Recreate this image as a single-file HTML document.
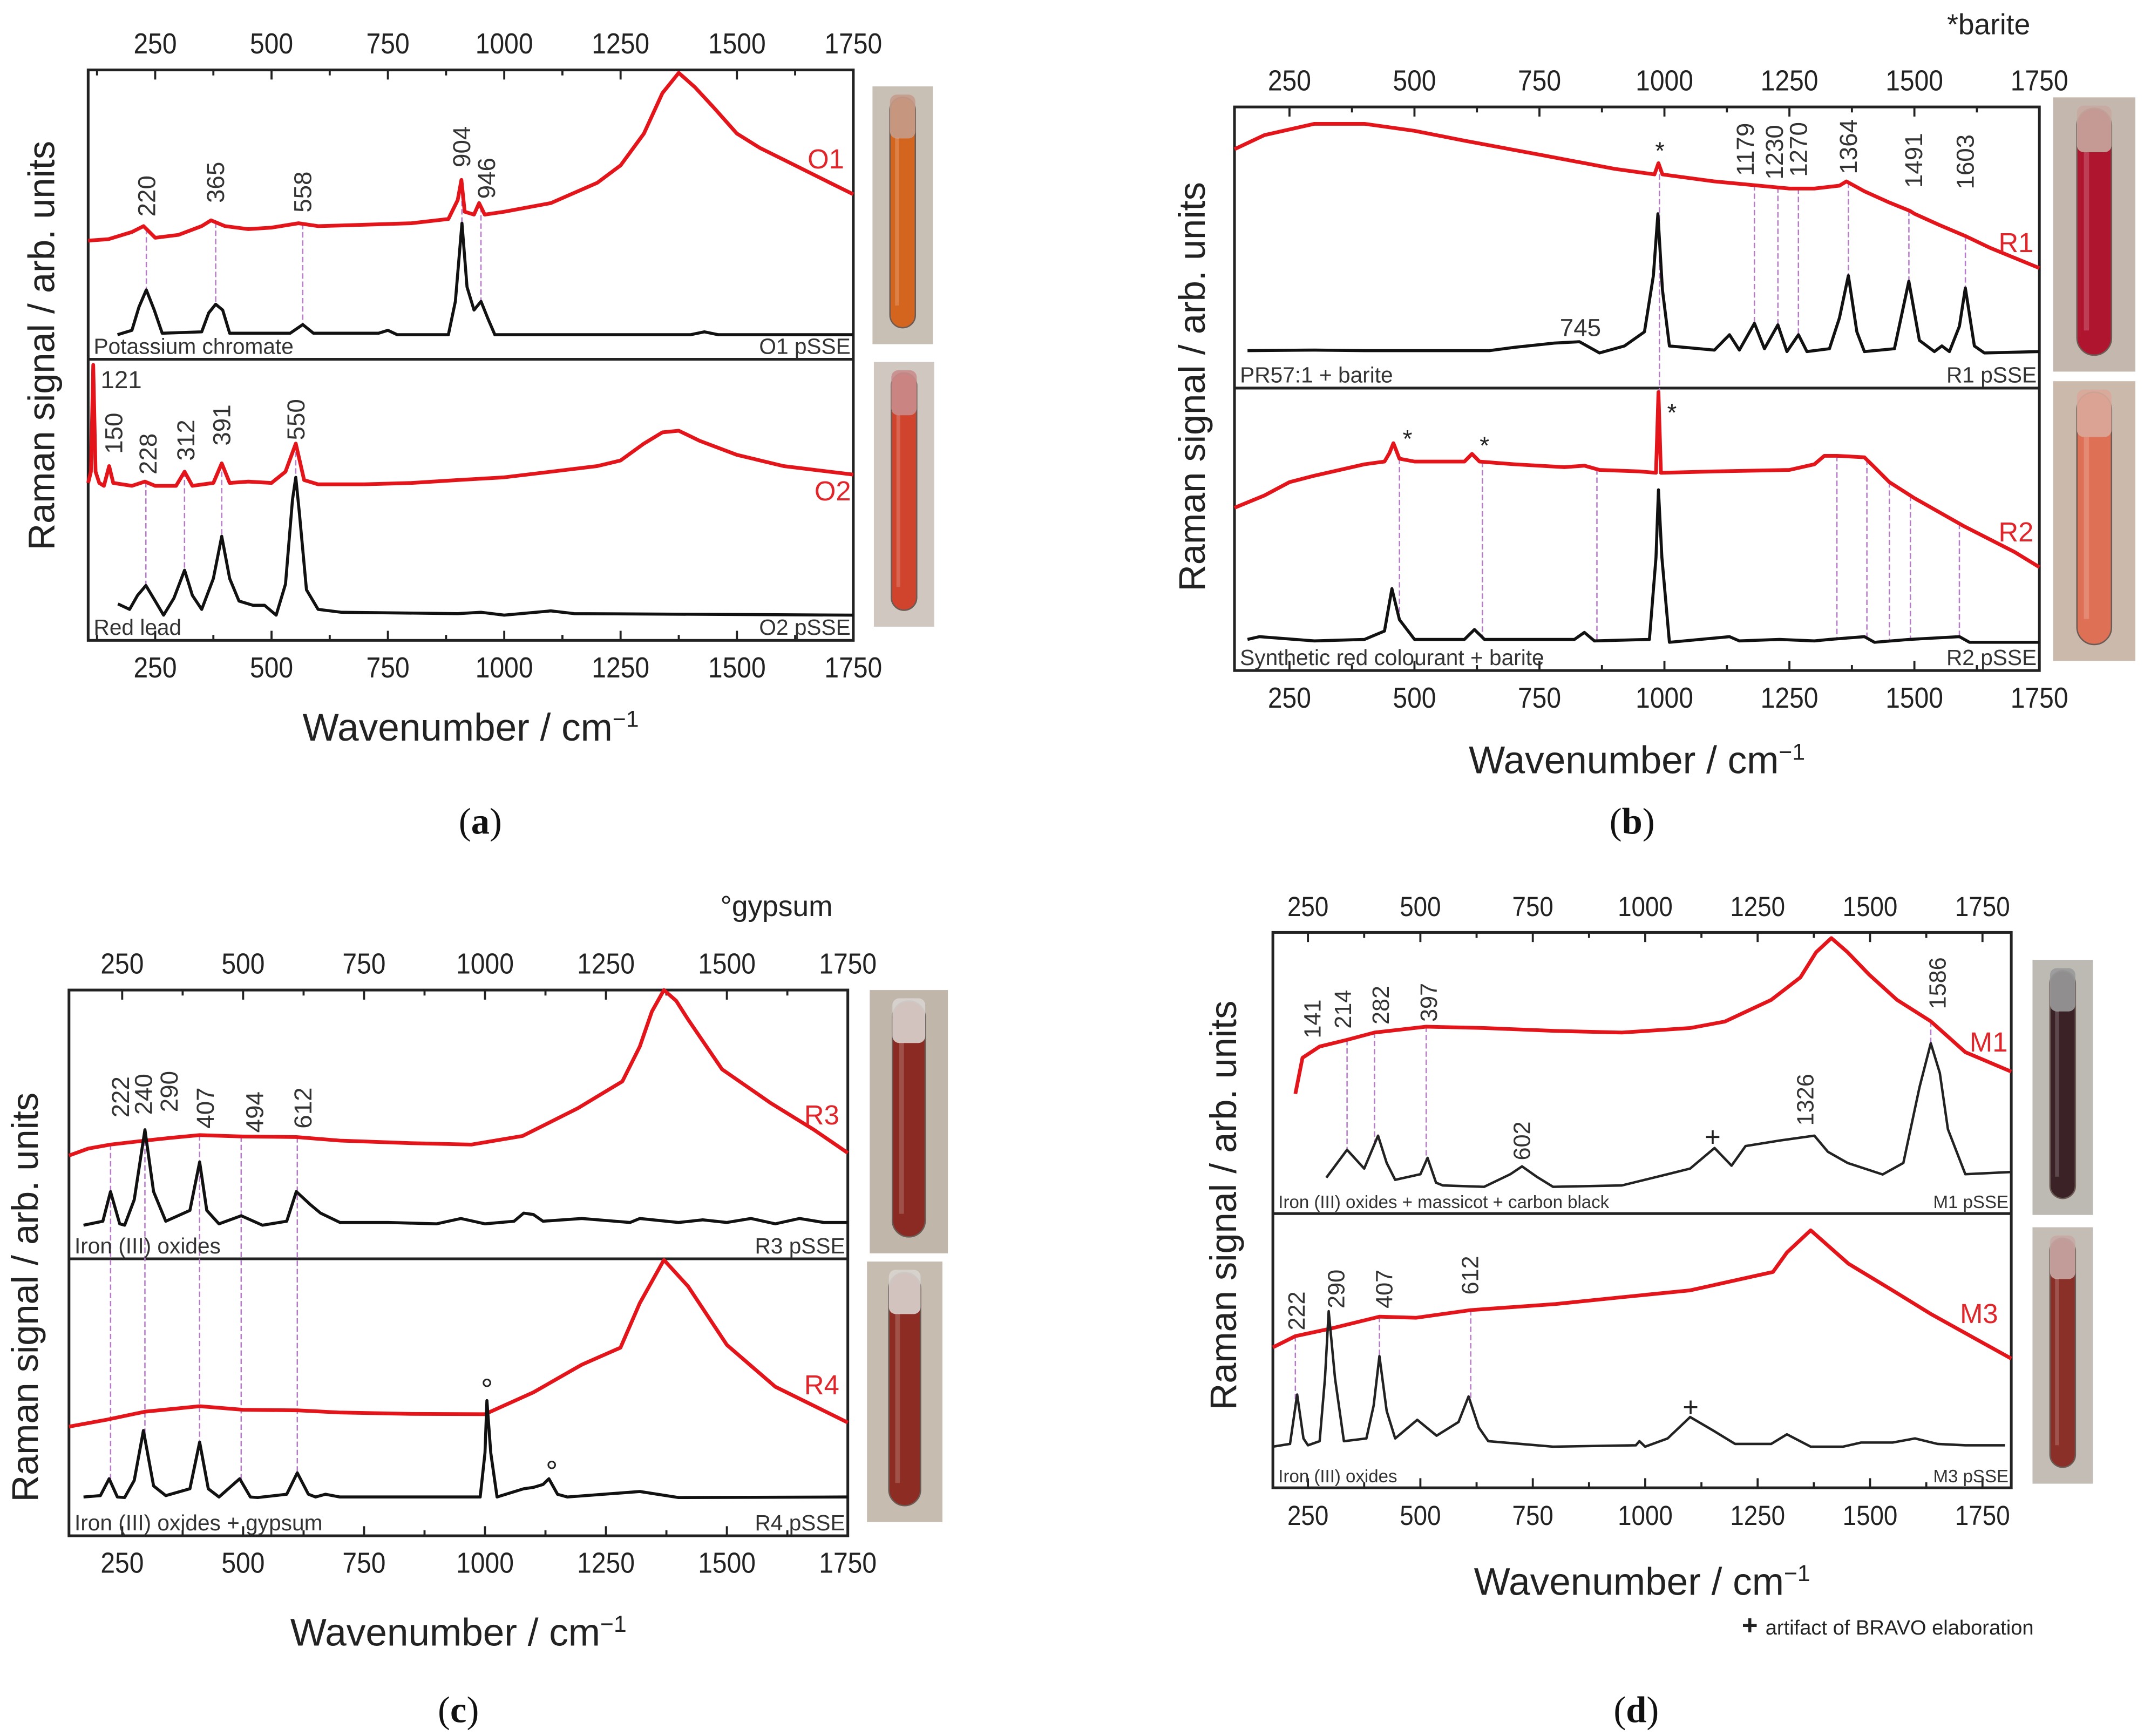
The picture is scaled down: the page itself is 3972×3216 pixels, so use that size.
<!DOCTYPE html>
<html><head><meta charset="utf-8"><title>Raman spectra figure</title>
<style>
html,body{margin:0;padding:0;background:#fff;}
svg{display:block;}
text{font-family:"Liberation Sans",sans-serif;}
</style></head>
<body>
<svg id="fig" xmlns="http://www.w3.org/2000/svg" width="3972" height="3216" viewBox="0 0 1563 1266"></svg>
<script>
// ---------- DATA (wavenumber cm-1, relative intensity 0-100 within sub-panel) ----------
const aO1Red=[[106,41],[150,41.5],[200,44],[225,46],[250,42],[300,43],[350,46],[370,48],[400,46],[450,45],[500,45.5],[558,47],[600,46],[700,46.5],[800,47],[880,48.5],[900,55],[908,62],[915,51],[935,50],[946,54],[958,50],[1000,51],[1100,54],[1200,61],[1250,67],[1300,78],[1340,92],[1375,99],[1410,94],[1450,87],[1500,78],[1550,73],[1600,69],[1700,61],[1750,57]];
const aO1Blk=[[169,8.5],[200,10],[215,18],[231,24],[248,17],[265,9],[350,9.5],[365,16],[380,19],[395,17],[410,9],[540,9],[567,12],[590,9],[730,9],[750,10],[770,8.5],[880,8.5],[895,20],[909,47],[920,25],[935,17],[950,20],[965,14],[980,8.5],[1400,8.5],[1430,9.5],[1460,8.5],[1750,8.5]];
const aO2Red=[[106,56],[112,60],[117,98],[122,60],[130,56],[140,55],[151,62],[160,56],[200,55],[228,56.5],[250,55],[295,55],[313,60],[330,55],[375,56],[393,63],[410,56],[450,56.5],[500,56],[530,60],[552,70],[570,57],[600,55.5],[700,55.5],[800,56],[900,57],[1000,58],[1100,60],[1200,62],[1250,64],[1300,70],[1340,74],[1375,74.6],[1420,71],[1500,66],[1600,62],[1750,59]];
const aO2Blk=[[170,13],[195,11],[212,16],[230,19.5],[250,14],[268,9],[290,15],[313,25],[330,16],[350,11],[375,22],[393,37],[410,22],[430,14],[460,12.5],[485,12.5],[510,9],[530,20],[545,50],[552,58],[560,45],[575,18],[600,11],[650,10],[900,9.5],[950,10],[1000,9],[1100,10.5],[1150,9.5],[1750,9]];

const bR1Red=[[140,85],[200,90],[300,94],[400,94],[500,91.5],[600,88],[750,83],[900,78],[980,76],[988,80],[996,76],[1100,73.5],[1250,71],[1300,71],[1350,72],[1364,73.5],[1400,70],[1450,66],[1491,63],[1500,62],[1550,58],[1603,54],[1650,50],[1750,42.7]];
const bR1Blk=[[166,13.3],[300,13.5],[400,13.3],[650,13.3],[700,14.5],[780,16],[830,16.5],[870,12.5],[920,15],[960,20],[978,40],[987,62],[996,35],[1010,15],[1040,14.5],[1100,13.5],[1130,19],[1150,13.5],[1180,23],[1200,14],[1227,22.5],[1245,13],[1268,19],[1285,13],[1330,14],[1350,25],[1368,40],[1385,20],[1400,13],[1460,14],[1489,38],[1510,17],[1540,13],[1555,15],[1570,13],[1590,22],[1602,35.6],[1620,15],[1640,12.5],[1750,13]];
const bR2Red=[[140,57.6],[200,62],[250,66.7],[300,69],[400,73],[440,74],[450,77],[458,80.5],[470,75],[500,74],[600,74],[615,76.7],[630,74],[700,73],[800,72],[840,72.5],[870,71],[950,70.5],[983,70],[988,98.6],[993,70],[1100,70.5],[1250,71],[1300,73],[1320,76],[1345,76],[1400,75.5],[1420,72],[1450,66.7],[1500,61],[1600,51],[1700,42],[1750,36.6]];
const bR2Blk=[[166,11],[190,12],[300,10.5],[400,11],[440,14],[455,29],[470,18],[500,11],[600,11],[620,14.5],[640,11],[820,11],[840,13.5],[860,10.5],[970,11],[983,40],[988,64],[995,40],[1010,10],[1130,12],[1150,10.5],[1230,11],[1300,10.5],[1330,11],[1400,12],[1420,10],[1490,11],[1590,12],[1610,10],[1750,10]];

const cR3Red=[[140,38.4],[180,41],[226,42.5],[297,44],[350,45],[410,46],[500,45.5],[610,45.3],[700,44],[850,43],[972,42.5],[1078,45.7],[1192,56],[1284,66],[1320,79],[1345,92],[1370,100],[1395,96],[1420,89],[1490,70.5],[1590,58],[1680,48],[1750,39.4]];
const cR3Blk=[[170,12.5],[210,14],[226,25],[245,13],[255,12.5],[275,22],[297,48],[315,25],[340,14],[390,18],[410,36],[425,18],[450,13],[496,16],[540,12.5],[590,14],[610,25],[640,20],[660,17],[700,13.5],[800,13.5],[900,13],[950,15],[1000,13],[1060,14],[1080,17],[1100,16.5],[1120,14],[1200,15],[1300,13.5],[1320,15],[1400,13.5],[1450,14.5],[1500,13.5],[1550,15],[1600,13],[1650,15],[1700,13.5],[1750,13.5]];
const cR4Red=[[140,39.4],[220,42],[297,44.8],[410,46.8],[500,45.5],[612,45.3],[700,44.5],[850,44],[1000,43.9],[1100,51.8],[1200,61.8],[1280,67.9],[1320,84],[1370,99.6],[1420,90],[1500,68.9],[1600,53.8],[1750,40.9]];
const cR4Blk=[[170,14],[205,14.5],[223,20.6],[240,14],[255,13.8],[275,20],[294,38],[315,18],[340,14.5],[390,17],[410,33.8],[428,17],[450,14],[493,20.6],[515,14],[530,13.8],[590,15],[612,22.7],[635,15],[650,14],[670,15],[700,14],[990,14],[1000,30],[1004,48.8],[1012,30],[1025,14],[1080,17],[1100,17.5],[1120,18.5],[1132,20.6],[1150,15],[1170,14],[1320,16],[1400,13.8],[1750,14]];

const dM1Red=[[222,42.6],[238,55.4],[276,59.4],[337,61.8],[398,64.4],[513,66.5],[642,66],[800,65],[948,64.4],[1100,66],[1177,68.3],[1280,76],[1345,84],[1380,93],[1414,98],[1450,93],[1498,85],[1560,76],[1635,68.4],[1712,57.4],[1814,50.5]];
const dM1Blk=[[291,12.8],[337,22.7],[375,16],[406,27.7],[425,18],[444,12],[500,14],[516,19.8],[535,11],[550,10],[642,9.5],[700,14],[726,16.8],[760,13],[795,9.5],[948,10],[1050,14],[1100,16],[1154,23.3],[1192,17],[1223,24],[1300,26],[1376,27.7],[1406,22],[1450,18],[1528,13.9],[1574,18],[1610,45],[1635,60.6],[1655,50],[1673,30],[1712,14],[1814,14.8]];
const dM3Red=[[172,51.2],[222,55.3],[299,58],[409,62.4],[490,62],[612,64.8],[800,67],[948,69.5],[1100,72],[1284,78.7],[1315,85.8],[1368,93.9],[1452,81.7],[1550,72],[1635,63.4],[1814,47.1]];
const dM3Blk=[[172,15],[210,16],[226,34],[240,18],[250,15.5],[276,17],[288,40],[296,64.4],[310,40],[330,17],[380,18],[396,30],[409,48],[425,28],[444,18],[493,24.8],[536,19],[585,24],[607,33.3],[630,22],[651,17],[795,15],[979,15.5],[987,17],[1000,15],[1050,18],[1100,25.8],[1150,21],[1200,16],[1280,16],[1315,19.5],[1368,15],[1440,15],[1480,16.5],[1550,16.5],[1600,18],[1650,16],[1712,15.5],[1800,15.5]];

const tickLabels=[250,500,750,1000,1250,1500,1750];

const aPeaksUp=[["220",232],["365",380],["558",567],["904",909],["946",962]];
const aPeaksLo=[["150",161],["228",235],["312",316],["391",393],["550",553]];
const bPeaksUp=[["1179",1162],["1230",1220],["1270",1268],["1364",1368],["1491",1499],["1603",1602]];
const cPeaks=[["222",247],["240",294],["290",347],["407",422],["494",524],["612",624]];
const dPeaksUp=[["141",261],["214",329],["282",413],["397",520],["602",727],["1326",1357],["1586",1651]];
const dPeaksLo=[["222",226],["290",314],["407",421],["612",612]];
const aConnUp=[231,380,567,909,950];
const aConnLo=[230,313,393,552];
const bConnUp=[1180,1227,1268,1368,1489,1602];
const bConnLo=[470,636,865,1345,1405,1450,1492,1590];
const cConn=[226,297,410,496,612];
const dConnUp=[337,398,513,1635];
const dConnLo=[222,296,409,612];

// ---------- RENDER ----------
const NS="http://www.w3.org/2000/svg";
const svg=document.getElementById('fig');
function mk(tag,attrs,parent){const e=document.createElementNS(NS,tag);for(const k in attrs)e.setAttribute(k,attrs[k]);(parent||svg).appendChild(e);return e;}
function txt(s,attrs,parent){const e=mk('text',attrs,parent);e.textContent=s;return e;}
function interp(arr,wn){if(wn<=arr[0][0])return arr[0][1];for(let i=1;i<arr.length;i++){if(wn<=arr[i][0]){const a=arr[i-1],b=arr[i];return a[1]+(b[1]-a[1])*(wn-a[0])/(b[0]-a[0]);}}return arr[arr.length-1][1];}

const P={
 a:{x0:64,x1:622,d0:106,d1:1750,top:51,mid:262,bot:467,lab:"a",labX:350},
 b:{x0:900,x1:1487,d0:140,d1:1750,top:78,mid:283,bot:489,lab:"b",labX:1190},
 c:{x0:50,x1:618,d0:140,d1:1750,top:722,mid:918,bot:1120,lab:"c",labX:334},
 d:{x0:928,x1:1466.5,d0:172,d1:1814,top:680,mid:885,bot:1085,lab:"d",labX:1193}
};
function X(p,wn){return p.x0+(wn-p.d0)/(p.d1-p.d0)*(p.x1-p.x0);}
function Yu(p,v){return p.mid-v/100*(p.mid-p.top);}
function Yl(p,v){return p.bot-v/100*(p.bot-p.mid);}

function line(p,g,arr,yf,color,w,name){
  const pts=arr.map(d=>X(p,d[0]).toFixed(1)+","+yf(p,d[1]).toFixed(1)).join(" ");
  const e=mk('polyline',{points:pts,fill:'none',stroke:color,'stroke-width':w,'stroke-linejoin':'round'},g);
  
  
}
function conn(p,g,wn,y1,y2){
  const e=mk('line',{x1:X(p,wn),x2:X(p,wn),y1:y1,y2:y2,stroke:'#b77cc8','stroke-width':1,'stroke-dasharray':'4,2'},g);
  
  
}
function rotLabel(p,g,s,wn,yc,fs){
  const x=X(p,wn);
  const e=txt(s,{x:x,y:yc,'font-size':fs||18,fill:'#333','text-anchor':'middle','dominant-baseline':'central',transform:`rotate(-90 ${x} ${yc})`},g);
  
  
}

function axes(p,g,fs){
  const box=mk('rect',{x:p.x0,y:p.top,width:p.x1-p.x0,height:p.bot-p.top,fill:'none',stroke:'#222','stroke-width':2},g);
  
  
  const dv=mk('line',{x1:p.x0,x2:p.x1,y1:p.mid,y2:p.mid,stroke:'#222','stroke-width':2},g);
  
  
  for(let t=125;t<=p.d1;t+=125){
    if(t<p.d0)continue;
    const major=(t%250===0);const L=major?7:4;const x=X(p,t);
    mk('line',{x1:x,x2:x,y1:p.top,y2:p.top+L,stroke:'#222','stroke-width':1.5},g);
    mk('line',{x1:x,x2:x,y1:p.bot,y2:p.bot-L,stroke:'#222','stroke-width':1.5},g);
  }
  tickLabels.forEach(t=>{
    const x=X(p,t);
    const a=txt(String(t),{x:x,y:p.top-12,'font-size':fs,'text-anchor':'middle',fill:'#222',transform:`translate(${x} 0) scale(0.9 1) translate(${-x} 0)`},g);
    
    
    const b=txt(String(t),{x:x,y:p.bot+27,'font-size':fs,'text-anchor':'middle',fill:'#222',transform:`translate(${x} 0) scale(0.9 1) translate(${-x} 0)`},g);
    
    
  });
}
function titles(p,g,yTitleX,yTitleY,xTitleY,fsY,fsX){
  const xc=(p.x0+p.x1)/2;
  const yt=txt('Raman signal / arb. units',{x:yTitleX,y:yTitleY,'font-size':fsY,'text-anchor':'middle','dominant-baseline':'central',fill:'#222',transform:`rotate(-90 ${yTitleX} ${yTitleY})`},g);
  
  
  const xt=txt('',{x:xc,y:xTitleY,'font-size':fsX,'text-anchor':'middle',fill:'#222'},g);
  xt.textContent='Wavenumber / cm';
  const sup=mk('tspan',{dy:-10,'font-size':fsX*0.6},xt);sup.textContent='−1';
  
  
  const pl=txt('',{x:p.labX,y:608,'font-size':27,'text-anchor':'middle',fill:'#111',style:'font-family:"Liberation Serif",serif'},g);
  if(p.lab==='c'||p.lab==='d')pl.setAttribute('y',1256);
  const t1=mk('tspan',{},pl);t1.textContent='(';
  const t2=mk('tspan',{'font-weight':'bold'},pl);t2.textContent=p.lab;
  const t3=mk('tspan',{},pl);t3.textContent=')';
  
  
}
function sample(p,g,left,right,fs,upper){
  const y=(upper?p.mid:p.bot)-4;
  const a=txt(left,{x:p.x0+4,y:y,'font-size':fs,fill:'#333'},g);
  
  
  const b=txt(right,{x:p.x1-2,y:y,'font-size':fs,fill:'#333','text-anchor':'end'},g);
  
  
}
function tag(g,s,x,y,fs){
  const e=txt(s,{x:x,y:y,'font-size':fs||19,fill:'#e0262a','text-anchor':'middle','dominant-baseline':'central'},g);
  
  
}
function mark(g,s,x,y,fs){
  const e=txt(s,{x:x,y:y,'font-size':fs||18,fill:'#222','text-anchor':'middle','dominant-baseline':'central'},g);
  
  
}
function vial(g,x,y,w,h,bg,tube,cap,name){
  const grp=mk('g',{},g);
  
  
  mk('rect',{x:x,y:y,width:w,height:h,fill:bg},grp);
  const tw=w*0.42,tx=x+(w-tw)/2;
  mk('rect',{x:tx,y:y+8,width:tw,height:h-20,rx:tw/2,fill:tube,stroke:'#6b5b55','stroke-width':1},grp);
  mk('rect',{x:tx,y:y+6,width:tw,height:h*0.17,rx:5,fill:cap,opacity:0.9},grp);
  mk('rect',{x:tx+tw*0.2,y:y+h*0.2,width:tw*0.15,height:h*0.65,fill:'#fff',opacity:0.18},grp);
}

const RW=2.7, BW=2.2;
// Panel a
(function(){const p=P.a;const g=mk('g',{});
 axes(p,g,21);
 aConnUp.forEach(w=>conn(p,g,w,Yu(p,interp(aO1Red,w)),Yu(p,interp(aO1Blk,w))));
 aConnLo.forEach(w=>conn(p,g,w,Yl(p,interp(aO2Red,w)),Yl(p,interp(aO2Blk,w))));
 line(p,g,aO1Red,Yu,'#e3151a',RW,'o1-red-spectrum');
 line(p,g,aO1Blk,Yu,'#111',BW,'o1-reference-spectrum');
 line(p,g,aO2Red,Yl,'#e3151a',RW,'o2-red-spectrum');
 line(p,g,aO2Blk,Yl,'#111',BW,'o2-reference-spectrum');
 const ys=[143,133,140,107,130];aPeaksUp.forEach((d,i)=>rotLabel(p,g,d[0],d[1],ys[i],18));
 const yl=[316,331,321,310,306];aPeaksLo.forEach((d,i)=>rotLabel(p,g,d[0],d[1],yl[i],18));
 const t=txt('121',{x:X(p,177),y:283,'font-size':18,fill:'#333','text-anchor':'middle'},g);
 sample(p,g,'Potassium chromate','O1 pSSE',16,true);
 sample(p,g,'Red lead','O2 pSSE',16,false);
 tag(g,'O1',602,116,20);tag(g,'O2',607,358,20);
 titles(p,g,30,252,540,27,28);
 vial(g,636,63,44,188,'#c8bfb5','#d4651e','#c59b8a','vial-o1');
 vial(g,637,264,44,193,'#cfc7c0','#d0432c','#c98c8c','vial-o2');
})();
// Panel b
(function(){const p=P.b;const g=mk('g',{});
 axes(p,g,21);
 conn(p,g,990,Yu(p,interp(bR1Red,990)),Yl(p,interp(bR2Red,990)));
 bConnUp.forEach(w=>conn(p,g,w,Yu(p,interp(bR1Red,w)),Yu(p,interp(bR1Blk,w))));
 bConnLo.forEach(w=>conn(p,g,w,Yl(p,interp(bR2Red,w)),Yl(p,interp(bR2Blk,w))));
 line(p,g,bR1Red,Yu,'#e3151a',RW,'r1-red-spectrum');
 line(p,g,bR1Blk,Yu,'#111',BW,'r1-reference-spectrum');
 line(p,g,bR2Red,Yl,'#e3151a',RW,'r2-red-spectrum');
 line(p,g,bR2Blk,Yl,'#111',BW,'r2-reference-spectrum');
 const ys=[109,111,109,107,117,118];bPeaksUp.forEach((d,i)=>rotLabel(p,g,d[0],d[1],ys[i],18));
 const t=txt('745',{x:X(p,832),y:245,'font-size':18,fill:'#333','text-anchor':'middle'},g);
 mark(g,'*',X(p,991),110);mark(g,'*',X(p,486),320);mark(g,'*',X(p,640),325);mark(g,'*',X(p,1015),301);
 sample(p,g,'PR57:1 + barite','R1 pSSE',16,true);
 sample(p,g,'Synthetic red colourant + barite','R2 pSSE',16,false);
 tag(g,'R1',1470,177,20);tag(g,'R2',1470,388,20);
 const bn=txt('*barite',{x:1450,y:25,'font-size':21,fill:'#222','text-anchor':'middle'},g);
 titles(p,g,869,282,564,27,28);
 vial(g,1497,71,60,200,'#c4b7ad','#b01530','#c8a8a0','vial-r1');
 vial(g,1497,278,60,204,'#cbb9ac','#de7055','#d9a89a','vial-r2');
})();
// Panel c
(function(){const p=P.c;const g=mk('g',{});
 axes(p,g,21);
 cConn.forEach(w=>conn(p,g,w,Yu(p,interp(cR3Red,w)),Yl(p,interp(cR4Blk,w))));
 line(p,g,cR3Red,Yu,'#e3151a',RW,'r3-red-spectrum');
 line(p,g,cR3Blk,Yu,'#111',BW,'r3-reference-spectrum');
 line(p,g,cR4Red,Yl,'#e3151a',RW,'r4-red-spectrum');
 line(p,g,cR4Blk,Yl,'#111',BW,'r4-reference-spectrum');
 const ys=[800,798,796,808,811,808];cPeaks.forEach((d,i)=>rotLabel(p,g,d[0],d[1],ys[i],18));
 mark(g,'°',X(p,1004),1013,22);mark(g,'°',X(p,1138),1073,22);
 sample(p,g,'Iron (III) oxides','R3 pSSE',16,true);
 sample(p,g,'Iron (III) oxides + gypsum','R4 pSSE',16,false);
 tag(g,'R3',599,813,20);tag(g,'R4',599,1010,20);
 const gn=txt('°gypsum',{x:566,y:668,'font-size':21,fill:'#222','text-anchor':'middle'},g);
 titles(p,g,18,946,1200,27,28);
 vial(g,634,722,57,192,'#c0b6aa','#8a2a22','#d9d4d0','vial-r3');
 vial(g,632,920,55,190,'#c6bcb0','#8c2c22','#d9d4d0','vial-r4');
})();
// Panel d
(function(){const p=P.d;const g=mk('g',{});
 axes(p,g,20);
 dConnUp.forEach(w=>conn(p,g,w,Yu(p,interp(dM1Red,w)),Yu(p,interp(dM1Blk,w))));
 dConnLo.forEach(w=>conn(p,g,w,Yl(p,interp(dM3Red,w)),Yl(p,interp(dM3Blk,w))));
 line(p,g,dM1Red,Yu,'#e3151a',RW,'m1-red-spectrum');
 line(p,g,dM1Blk,Yu,'#222',1.8,'m1-reference-spectrum');
 line(p,g,dM3Red,Yl,'#e3151a',RW,'m3-red-spectrum');
 line(p,g,dM3Blk,Yl,'#222',1.8,'m3-reference-spectrum');
 const ys=[743,736,733,731,832,802,717];dPeaksUp.forEach((d,i)=>rotLabel(p,g,d[0],d[1],ys[i],17));
 const yl=[956,940,940,930];dPeaksLo.forEach((d,i)=>rotLabel(p,g,d[0],d[1],yl[i],17));
 mark(g,'+',X(p,1150),829,20);mark(g,'+',X(p,1101),1026,20);
 sample(p,g,'Iron (III) oxides + massicot + carbon black','M1 pSSE',13,true);
 sample(p,g,'Iron (III) oxides','M3 pSSE',13,false);
 tag(g,'M1',1450,760,20);tag(g,'M3',1443,958,20);
 const fn=txt('',{x:1270,y:1192,'font-size':15,fill:'#222'},g);
 const s1=mk('tspan',{'font-size':20,'font-weight':'bold'},fn);s1.textContent='+ ';
 const s2=mk('tspan',{},fn);s2.textContent='artifact of BRAVO elaboration';
 
 titles(p,g,892,879,1163,27,28);
 vial(g,1482,700,44,186,'#bdbab4','#3a2226','#9a9a9a','vial-m1');
 vial(g,1482,895,44,187,'#c3bdb5','#8a3028','#c8a8a4','vial-m3');
})();
</script>
</body></html>
